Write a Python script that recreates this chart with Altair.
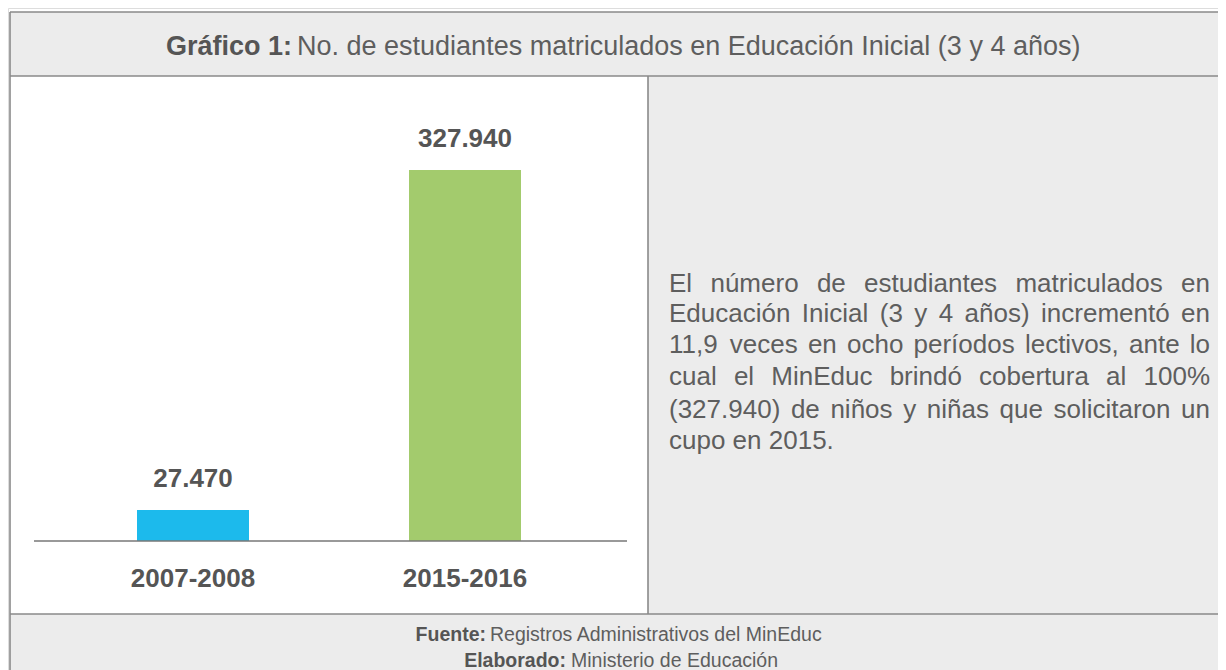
import altair as alt
import pandas as pd

# ---- data ----
periods = ["2007-2008", "2015-2016"]
students = [27470, 327940]
bar_colors = ["#1cbaec", "#a3cb6d"]

title_bold = "Gráfico 1:"
title_rest = "No. de estudiantes matriculados en Educación Inicial (3 y 4 años)"

body_lines = [
    "El número de estudiantes matriculados en",
    "Educación Inicial (3 y 4 años) incrementó en",
    "11,9 veces en ocho períodos lectivos, ante lo",
    "cual el MinEduc brindó cobertura al 100%",
    "(327.940) de niños y niñas que solicitaron un",
    "cupo en 2015.",
]

footer_bold = ["Fuente:", "Elaborado:"]
footer_rest = ["Registros Administrativos del MinEduc", "Ministerio de Educación"]

FONT = "Liberation Sans"
TXT = "#555555"
TXT_LIGHT = "#5e5e5e"
GRAY = "#ececec"
LINE = "#8a8a8a"

W, H = 1210, 662

# Liberation Sans (Arial-metric) advance widths, per 1000 em, used to justify the body text
ADV = {" ": 278, "(": 333, ")": 333, ",": 278, ".": 278, "%": 889,
       "a": 556, "b": 556, "c": 500, "d": 556, "e": 556, "f": 278, "g": 556, "h": 556,
       "i": 222, "j": 222, "k": 500, "l": 222, "m": 833, "n": 556, "o": 556, "p": 556,
       "q": 556, "r": 333, "s": 500, "t": 278, "u": 556, "v": 500, "w": 722, "x": 500,
       "y": 500, "z": 500, "á": 556, "é": 556, "í": 278, "ó": 556, "ú": 556, "ñ": 556,
       "E": 667, "I": 278, "M": 833, "C": 722}

def text_width(s, size):
    return sum(ADV.get(ch, 556) for ch in s) * size / 1000.0

BODY_SIZE = 26
BODY_X0, BODY_X1 = 661, 1202
LINE_Y = [276, 306, 337, 369, 402, 433]

rows = []
for li, line in enumerate(body_lines):
    words = line.split(" ")
    last = li == len(body_lines) - 1
    if last or len(words) == 1:
        rows.append({"w": line, "x": BODY_X0, "y": LINE_Y[li]})
        continue
    widths = [text_width(w, BODY_SIZE) for w in words]
    gap = (BODY_X1 - BODY_X0 - sum(widths)) / (len(words) - 1)
    x = BODY_X0
    for w, wd in zip(words, widths):
        rows.append({"w": w, "x": x, "y": LINE_Y[li]})
        x += wd + gap
body_df = pd.DataFrame(rows)

bars = pd.DataFrame({
    "periodo": periods,
    "estudiantes": students,
    "label": [f"{v:,}".replace(",", ".") for v in students],
    "color": bar_colors,
})

x_scale = alt.Scale(domain=periods, range=[49, 593], paddingInner=0, paddingOuter=0)
y_scale = alt.Scale(domain=[0, max(students)], range=[533, 162], nice=False)

dummy = pd.DataFrame({"a": [0]})
base = alt.Chart(dummy)

def rect(x, x2, y, y2, fill):
    return base.mark_rect(fill=fill, strokeWidth=0).encode(
        x=alt.value(x), x2=alt.value(x2), y=alt.value(y), y2=alt.value(y2)
    )

def rule(x, x2, y, y2):
    return base.mark_rule(color=LINE, strokeWidth=1.6).encode(
        x=alt.value(x), x2=alt.value(x2), y=alt.value(y), y2=alt.value(y2)
    )

panels = [
    rect(2, W, 4, 68, GRAY),
    rect(640, W, 68, 606, GRAY),
    rect(2, W, 606, H, GRAY),
    rect(2, 640, 68, 606, "#ffffff"),
    rule(2, W, 4, 4),
    rule(2, W, 68, 68),
    rule(2, W, 606, 606),
    rule(2, 2, 4, H),
    rule(640, 640, 68, 606),
]

# title
title_b = alt.Chart(pd.DataFrame({"t": [title_bold]})).mark_text(
    font=FONT, fontSize=27, fontWeight="bold", color=TXT, align="right", baseline="middle"
).encode(text="t:N", x=alt.value(284), y=alt.value(39))
title_r = alt.Chart(pd.DataFrame({"t": [title_rest]})).mark_text(
    font=FONT, fontSize=27, fontWeight="normal", color=TXT_LIGHT, align="left", baseline="middle"
).encode(text="t:N", x=alt.value(289), y=alt.value(39))

# bars
bar_chart = alt.Chart(bars).mark_bar(width=112).encode(
    x=alt.X("periodo:N", scale=x_scale, axis=None),
    y=alt.Y("estudiantes:Q", scale=y_scale, axis=None),
    color=alt.Color("color:N", scale=None, legend=None),
)
value_labels = alt.Chart(bars).mark_text(
    font=FONT, fontSize=26, fontWeight="bold", color=TXT, baseline="alphabetic", dy=-23
).encode(
    x=alt.X("periodo:N", scale=x_scale, axis=None),
    y=alt.Y("estudiantes:Q", scale=y_scale, axis=None),
    text="label:N",
)
cat_labels = alt.Chart(bars).mark_text(
    font=FONT, fontSize=26, fontWeight="bold", color=TXT, baseline="middle"
).encode(
    x=alt.X("periodo:N", scale=x_scale, axis=None),
    y=alt.value(571),
    text="periodo:N",
)
baseline_rule = base.mark_rule(color="#777777", strokeWidth=1.5).encode(
    x=alt.value(26), x2=alt.value(619), y=alt.value(533)
)

# body text (justified)
body = alt.Chart(body_df).mark_text(
    font=FONT, fontSize=BODY_SIZE, fontWeight="normal", color=TXT_LIGHT, align="left", baseline="middle"
).encode(
    text="w:N",
    x=alt.X("x:Q", scale=None, axis=None),
    y=alt.Y("y:Q", scale=None, axis=None),
)

# footer
fb = pd.DataFrame({"t": footer_bold, "i": [0, 1], "x": [478, 558]})
fr = pd.DataFrame({"t": footer_rest, "i": [0, 1], "x": [482, 563]})
fy = alt.Scale(domain=[0, 1], range=[627, 653])
foot_b = alt.Chart(fb).mark_text(
    font=FONT, fontSize=19.5, fontWeight="bold", color=TXT, align="right", baseline="middle"
).encode(text="t:N", x=alt.X("x:Q", scale=None, axis=None), y=alt.Y("i:Q", scale=fy, axis=None))
foot_r = alt.Chart(fr).mark_text(
    font=FONT, fontSize=19.5, fontWeight="normal", color=TXT_LIGHT, align="left", baseline="middle"
).encode(text="t:N", x=alt.X("x:Q", scale=None, axis=None), y=alt.Y("i:Q", scale=fy, axis=None))

chart = alt.layer(
    *panels, title_b, title_r, bar_chart, value_labels, cat_labels, baseline_rule,
    body, foot_b, foot_r
).resolve_scale(x="independent", y="independent").properties(
    width=W, height=H, padding=0, autosize=alt.AutoSizeParams(type="none")
).configure_view(stroke=None).configure(background="#ffffff")

chart.save("out.html", embed_options={"renderer": "svg", "actions": False})
